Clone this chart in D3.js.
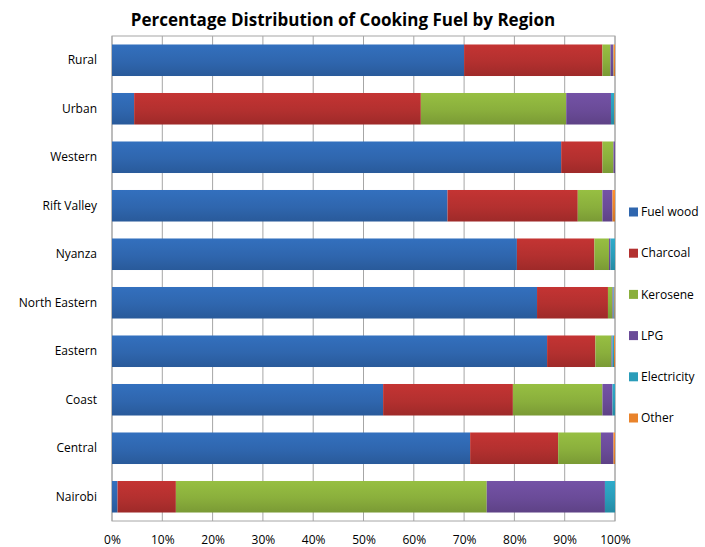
<!DOCTYPE html>
<html><head><meta charset="utf-8">
<script src="https://cdn.jsdelivr.net/npm/d3@7"></script>
<style>body{margin:0;background:#fff;} text{font-family:"Open Sans","Liberation Sans",sans-serif;}</style>
</head><body>
<svg id="c" width="705" height="547"></svg>
<script>
const regions = ["Rural","Urban","Western","Rift Valley","Nyanza","North Eastern","Eastern","Coast","Central","Nairobi"];
const fuels = ["Fuel wood","Charcoal","Kerosene","LPG","Electricity","Other"];
const fuelwood    = [70.0, 4.4, 89.3, 66.7, 80.5, 84.5, 86.5, 53.9, 71.2, 1.1];
const charcoal    = [27.5, 57.0, 8.2, 25.9, 15.4, 14.1, 9.6, 25.8, 17.5, 11.6];
const kerosene    = [1.6, 28.9, 2.2, 4.9, 2.9, 0.9, 3.2, 17.8, 8.5, 61.8];
const lpg         = [0.5, 8.9, 0.3, 2.0, 0.3, 0.2, 0.2, 2.0, 2.5, 23.5];
const electricity = [0.1, 0.7, 0.0, 0.0, 0.9, 0.2, 0.3, 0.5, 0.0, 2.0];
const other       = [0.3, 0.1, 0.0, 0.5, 0.0, 0.1, 0.2, 0.0, 0.3, 0.0];
const xTicks = [0,10,20,30,40,50,60,70,80,90,100];
const colors = ["#2f66ae","#b3302f","#8aaf3c","#6a4b98","#2a9cb9","#e9832b"];

const series = [fuelwood, charcoal, kerosene, lpg, electricity, other];
const rows = regions.map((r,i)=>{const o={region:r}; fuels.forEach((f,j)=>o[f]=series[j][i]); return o;});

const svg = d3.select("#c");
const m = {l:112, r:615, t:36, b:521};
const x = d3.scaleLinear().domain([0,100]).range([m.l, m.r]);
const y = d3.scaleBand().domain(regions).range([m.t, m.b]).paddingInner(0.35).paddingOuter(0.175);

const defs = svg.append("defs");
colors.forEach((c,i)=>{
  const g = defs.append("linearGradient").attr("id","g"+i).attr("x1",0).attr("y1",0).attr("x2",0).attr("y2",1);
  g.append("stop").attr("offset","0%").attr("stop-color", d3.color(c).brighter(0.25));
  g.append("stop").attr("offset","55%").attr("stop-color", c);
  g.append("stop").attr("offset","100%").attr("stop-color", d3.color(c).darker(0.35));
});

// gridlines
svg.append("g").selectAll("line").data(xTicks).join("line")
  .attr("x1",d=>x(d)).attr("x2",d=>x(d)).attr("y1",m.t).attr("y2",m.b)
  .attr("stroke","#a6a6a6").attr("stroke-width",1);
svg.append("rect").attr("x",m.l).attr("y",m.t).attr("width",m.r-m.l).attr("height",m.b-m.t)
  .attr("fill","none").attr("stroke","#a6a6a6");

const stack = d3.stack().keys(fuels)(rows);
svg.append("g").selectAll("g").data(stack).join("g")
  .attr("fill",(d,i)=>"url(#g"+i+")")
  .selectAll("rect").data(d=>d).join("rect")
  .attr("x",d=>x(d[0])).attr("width",d=>Math.max(0,x(d[1])-x(d[0])))
  .attr("y",d=>y(d.data.region)).attr("height",y.bandwidth());

// axes
const xa = svg.append("g").attr("transform",`translate(0,${m.b})`)
  .call(d3.axisBottom(x).tickValues(xTicks).tickFormat(d=>d+"%").tickSize(0).tickPadding(14));
xa.select(".domain").remove();
xa.selectAll("text").attr("font-size",12).attr("fill","#000");

const ya = svg.append("g").attr("transform",`translate(${m.l},0)`)
  .call(d3.axisLeft(y).tickSize(0).tickPadding(15));
ya.select(".domain").remove();
ya.selectAll("text").attr("font-size",12).attr("fill","#000");

svg.append("text").attr("x",343).attr("y",26).attr("text-anchor","middle")
  .attr("font-size",17).attr("font-weight","bold").text("Percentage Distribution of Cooking Fuel by Region");

// legend
const legY = d3.scalePoint().domain(fuels).range([212,418]);
const lg = svg.append("g").selectAll("g").data(fuels).join("g")
  .attr("transform",d=>`translate(629,${legY(d)})`);
lg.append("rect").attr("x",0).attr("y",-4.5).attr("width",9).attr("height",9).attr("fill",(d,i)=>colors[i]);
lg.append("text").attr("x",12).attr("y",0).attr("dy","0.35em").attr("font-size",12).text(d=>d);
</script>
</body></html>
